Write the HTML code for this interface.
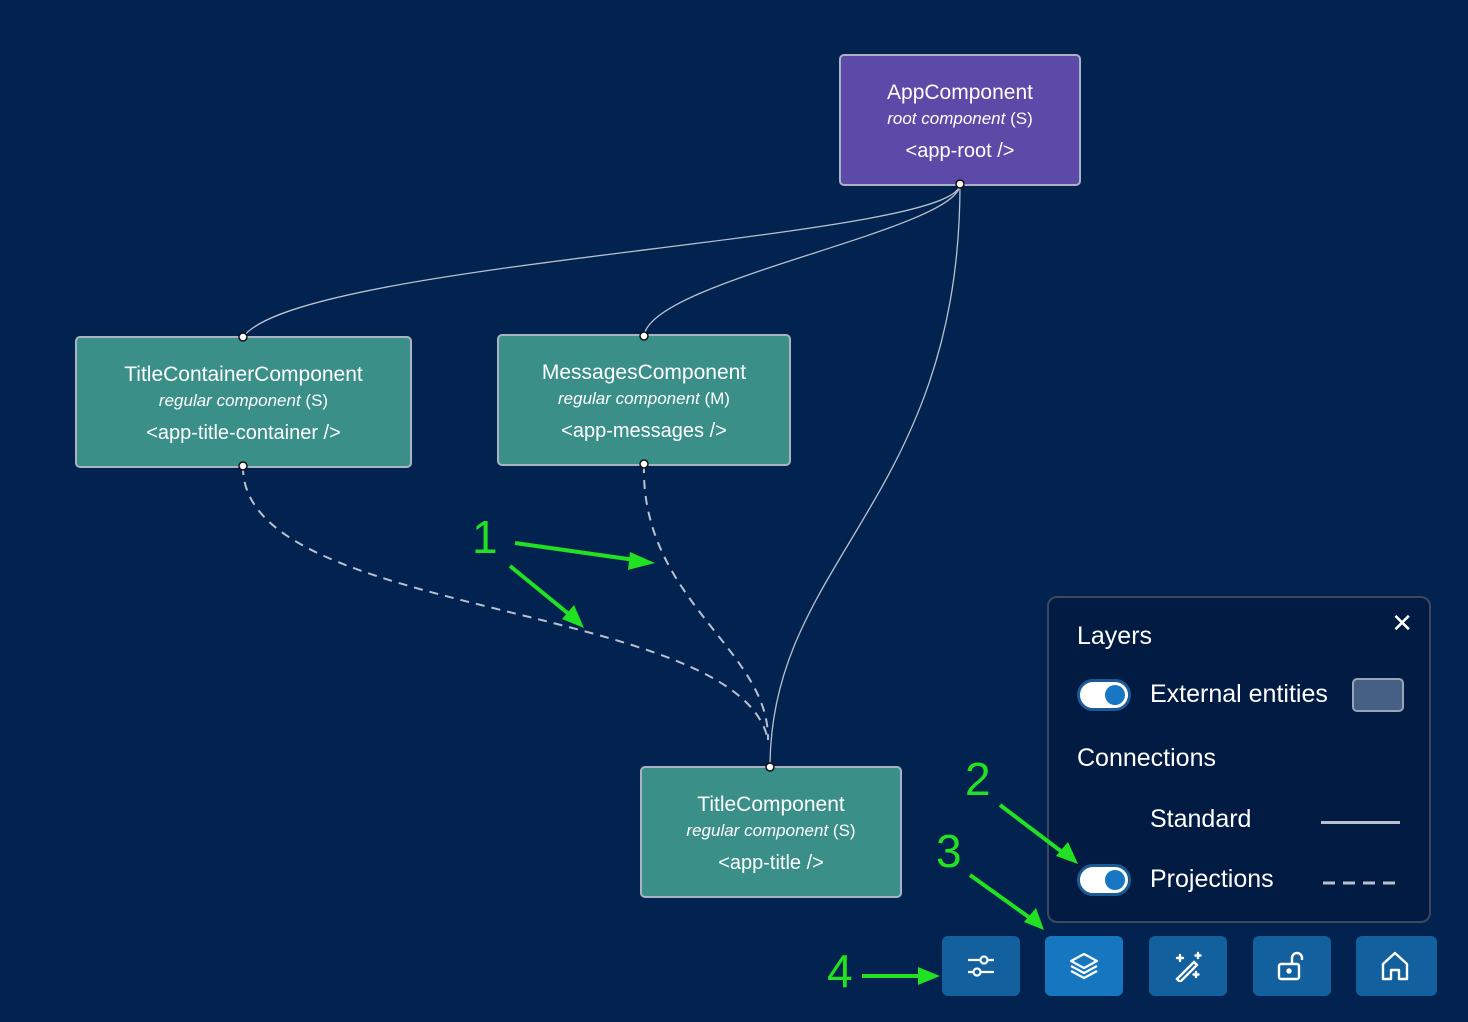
<!DOCTYPE html>
<html><head><meta charset="utf-8"><style>
html,body{margin:0;padding:0;width:1468px;height:1022px;background:#022350;overflow:hidden;font-family:"Liberation Sans","DejaVu Sans",sans-serif;color:#fff}
.node{position:absolute;border:2px solid #a9b3c4;border-radius:5px;box-sizing:border-box;text-align:center;color:#fff}
.t{font-size:21px;line-height:26px}
.s{font-size:17px;line-height:26px}
.s i{font-style:italic}
.g{font-size:20px;line-height:26px;margin-top:6px}
.teal{background:#3b8f89}
.purple{background:#5d4aa8}
.panel{position:absolute;left:1047px;top:596px;width:384px;height:327px;border:2px solid #3d4860;border-radius:10px;box-sizing:border-box;background:#021b42}
.lbl{position:absolute;font-size:25px;color:#fff}
.tog{position:absolute;width:54px;height:32px;border-radius:16px;background:#fff;border:3px solid #1a5b96;box-sizing:border-box}
.tog::after{content:"";position:absolute;right:3px;top:3px;width:20px;height:20px;border-radius:50%;background:#1877c4}
.btn{position:absolute;top:936px;width:78px;height:60px;border-radius:6px;background:#13609f}
.btn svg{position:absolute;left:23px;top:14px}
.num{position:absolute;color:#22e022;font-size:46px;z-index:5}
</style></head><body>
<svg width="1468" height="1022" style="position:absolute;left:0;top:0">
<g fill="none" stroke="#b9c1cf" stroke-width="1.3">
<path d="M960 184 C960 240 300 260 243 337"/>
<path d="M960 184 C960 230 650 280 644 336"/>
<path d="M960 184 C960 500 770 560 770 767"/>
<path d="M243 466 C240 620 740 600 768 740" stroke-dasharray="9 7" stroke-width="2"/>
<path d="M644 464 C640 600 770 650 768 740" stroke-dasharray="9 7" stroke-width="2"/>
</g>
</svg>

<div class="node purple" style="left:839px;top:54px;width:242px;height:132px;padding-top:24px">
<div class="t">AppComponent</div><div class="s"><i>root component</i> (S)</div><div class="g">&lt;app-root /&gt;</div></div>
<div class="node teal" style="left:75px;top:336px;width:337px;height:132px;padding-top:24px">
<div class="t">TitleContainerComponent</div><div class="s"><i>regular component</i> (S)</div><div class="g">&lt;app-title-container /&gt;</div></div>
<div class="node teal" style="left:497px;top:334px;width:294px;height:132px;padding-top:24px">
<div class="t">MessagesComponent</div><div class="s"><i>regular component</i> (M)</div><div class="g">&lt;app-messages /&gt;</div></div>
<div class="node teal" style="left:640px;top:766px;width:262px;height:132px;padding-top:24px">
<div class="t">TitleComponent</div><div class="s"><i>regular component</i> (S)</div><div class="g">&lt;app-title /&gt;</div></div>

<div class="panel">
<div class="lbl" style="left:28px;top:24px">Layers</div>
<div style="position:absolute;right:16px;top:10px;font-size:26px">✕</div>
<div class="tog" style="left:28px;top:81px"></div>
<div class="lbl" style="left:101px;top:82px">External entities</div>
<div style="position:absolute;left:303px;top:80px;width:52px;height:34px;background:#465f85;border:2px solid #98a4b8;border-radius:5px;box-sizing:border-box"></div>
<div class="lbl" style="left:28px;top:146px">Connections</div>
<div class="lbl" style="left:101px;top:207px">Standard</div>
<div style="position:absolute;left:272px;top:223px;width:79px;height:3px;background:#b9c1cf"></div>
<div class="tog" style="left:28px;top:266px"></div>
<div class="lbl" style="left:101px;top:267px">Projections</div>
<svg style="position:absolute;left:272px;top:282px" width="84" height="6"><line x1="2" y1="3" x2="82" y2="3" stroke="#b9c1cf" stroke-width="3" stroke-dasharray="12 8"/></svg>
</div>

<div class="btn" style="left:942px"><svg width="32" height="32" fill="none" stroke="#fff" stroke-width="2.2"><line x1="3" y1="10" x2="29" y2="10"/><line x1="3" y1="22" x2="29" y2="22"/><circle cx="19" cy="10" r="3.5" fill="#13609f"/><circle cx="12" cy="22" r="3.5" fill="#13609f"/></svg></div>
<div class="btn" style="left:1045px;background:#1677c0"><svg width="32" height="32" fill="none" stroke="#fff" stroke-width="2.2" stroke-linejoin="round"><path d="M16 4 L29 11 L16 18 L3 11 Z"/><path d="M3 16 L16 23 L29 16"/><path d="M3 21 L16 28 L29 21"/></svg></div>
<div class="btn" style="left:1149px"><svg width="32" height="32" fill="none" stroke="#fff" stroke-width="2.4" stroke-linecap="round"><path d="M5 29 L22 12 L25 15 L8 32 Z"/><path d="M8 5v6M5 8h6M26 3v5M23.5 5.5h5M24 22v5M21.5 24.5h5"/></svg></div>
<div class="btn" style="left:1253px"><svg width="32" height="32" fill="none" stroke="#fff" stroke-width="2.4"><rect x="3" y="14" width="20" height="15" rx="2"/><path d="M16 14 V8 a5 5 0 0 1 10 0 V10"/><circle cx="13" cy="21" r="1.5" fill="#fff"/></svg></div>
<div class="btn" style="left:1356px;width:81px"><svg width="32" height="32" fill="none" stroke="#fff" stroke-width="2.4" stroke-linejoin="round"><path d="M4 14 L16 3 L28 14 V29 H20 V20 H12 V29 H4 Z"/></svg></div>

<svg width="1468" height="1022" style="position:absolute;left:0;top:0;z-index:4">
<g fill="#fff" stroke="#111" stroke-width="1.5">
<circle cx="960" cy="184" r="4"/><circle cx="243" cy="337" r="4"/><circle cx="644" cy="336" r="4"/>
<circle cx="243" cy="466" r="4"/><circle cx="644" cy="464" r="4"/><circle cx="770" cy="767" r="4"/>
</g>
<g stroke="#22e022" stroke-width="4" fill="#22e022">
<line x1="515" y1="543" x2="635" y2="560"/><polygon points="655,563 630,552 628,570" stroke="none"/>
<line x1="510" y1="566" x2="570" y2="615"/><polygon points="584,628 574,605 562,619" stroke="none"/>
<line x1="1000" y1="805" x2="1062" y2="852"/><polygon points="1078,864 1068,842 1056,856" stroke="none"/>
<line x1="970" y1="875" x2="1030" y2="918"/><polygon points="1044,930 1036,908 1024,922" stroke="none"/>
<line x1="862" y1="976" x2="920" y2="976"/><polygon points="940,976 918,967 918,985" stroke="none"/>
</g>
</svg>
<div class="num" style="left:472px;top:510px">1</div>
<div class="num" style="left:965px;top:752px">2</div>
<div class="num" style="left:936px;top:824px">3</div>
<div class="num" style="left:827px;top:944px">4</div>
</body></html>
